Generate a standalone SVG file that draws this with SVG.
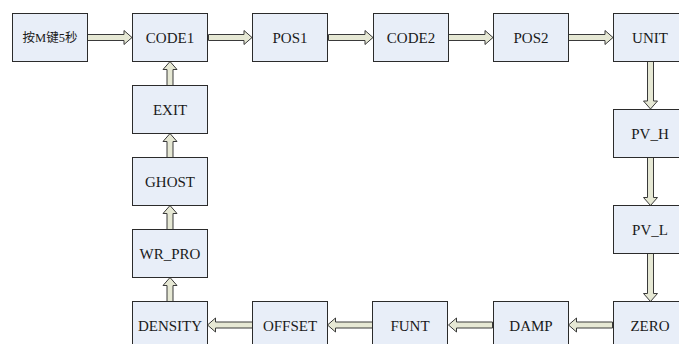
<svg xmlns="http://www.w3.org/2000/svg" width="679" height="344" viewBox="0 0 679 344">
<style>
.box{fill:#e8eef8;stroke:#2b2b2b;stroke-width:1}
.lbl{font-family:"Liberation Serif","Times New Roman",serif;font-size:15px;fill:#1a1a1a;text-anchor:middle}
.cjk{font-family:"Liberation Serif","Noto Sans CJK SC",serif;font-size:12.5px;fill:#1a1a1a;text-anchor:middle}
.arr{fill:#e6e8d4;stroke:#3a3a3a;stroke-width:1;stroke-linejoin:miter}
</style>
<rect width="679" height="344" fill="#ffffff"/>
<g id="connectors">
<path class="arr" d="M87.5 34.5H124V30.5L132 37.5L124 44.5V40.5H87.5Z"/>
<path class="arr" d="M208.5 34.5H244V30.5L252 37.5L244 44.5V40.5H208.5Z"/>
<path class="arr" d="M328.5 34.5H365V30.5L373 37.5L365 44.5V40.5H328.5Z"/>
<path class="arr" d="M448.5 34.5H485V30.5L493 37.5L485 44.5V40.5H448.5Z"/>
<path class="arr" d="M568.5 34.5H605V30.5L613 37.5L605 44.5V40.5H568.5Z"/>
<path class="arr" d="M647.5 61.5V101H643.5L650.5 109L657.5 101H653.5V61.5Z"/>
<path class="arr" d="M647.5 157.5V197.5H643.5L650.5 205.5L657.5 197.5H653.5V157.5Z"/>
<path class="arr" d="M647.5 253.5V293.5H643.5L650.5 301.5L657.5 293.5H653.5V253.5Z"/>
<path class="arr" d="M612.5 322H576.5V318L568.5 325L576.5 332V328H612.5Z"/>
<path class="arr" d="M492.5 322H456.5V318L448.5 325L456.5 332V328H492.5Z"/>
<path class="arr" d="M372.5 322H335.5V318L327.5 325L335.5 332V328H372.5Z"/>
<path class="arr" d="M252.5 322H215.5V318L207.5 325L215.5 332V328H252.5Z"/>
<path class="arr" d="M167 301.5V285.5H163L170 277.5L177 285.5H173V301.5Z"/>
<path class="arr" d="M167 229.5V213.5H163L170 205.5L177 213.5H173V229.5Z"/>
<path class="arr" d="M167 157.5V141.5H163L170 133.5L177 141.5H173V157.5Z"/>
<path class="arr" d="M167 85.5V69.5H163L170 61.5L177 69.5H173V85.5Z"/>
</g>
<g id="start"><rect class="box" x="12.5" y="13.5" width="75" height="48"/><text class="cjk" x="50" y="42">按M键5秒</text></g>
<g id="code1"><rect class="box" x="132.5" y="13.5" width="75" height="48"/><text class="lbl" x="170" y="42.5">CODE1</text></g>
<g id="pos1"><rect class="box" x="252.5" y="13.5" width="75" height="48"/><text class="lbl" x="290" y="42.5">POS1</text></g>
<g id="code2"><rect class="box" x="373.5" y="13.5" width="75" height="48"/><text class="lbl" x="411" y="42.5">CODE2</text></g>
<g id="pos2"><rect class="box" x="493.5" y="13.5" width="75" height="48"/><text class="lbl" x="531" y="42.5">POS2</text></g>
<g id="unit"><rect class="box" x="613.5" y="13.5" width="75" height="48"/><text class="lbl" x="650" y="42.5">UNIT</text></g>
<g id="pv_h"><rect class="box" x="613.5" y="109.5" width="75" height="48"/><text class="lbl" x="650" y="138.5">PV_H</text></g>
<g id="pv_l"><rect class="box" x="613.5" y="205.5" width="75" height="48"/><text class="lbl" x="650" y="234.5">PV_L</text></g>
<g id="zero"><rect class="box" x="613.5" y="301.5" width="75" height="48"/><text class="lbl" x="650" y="330.5">ZERO</text></g>
<g id="damp"><rect class="box" x="493.5" y="301.5" width="75" height="48"/><text class="lbl" x="531" y="330.5">DAMP</text></g>
<g id="funt"><rect class="box" x="372.5" y="301.5" width="75" height="48"/><text class="lbl" x="410" y="330.5">FUNT</text></g>
<g id="offset"><rect class="box" x="252.5" y="301.5" width="75" height="48"/><text class="lbl" x="290" y="330.5">OFFSET</text></g>
<g id="density"><rect class="box" x="132.5" y="301.5" width="75" height="48"/><text class="lbl" x="170" y="330.5">DENSITY</text></g>
<g id="wr_pro"><rect class="box" x="132.5" y="229.5" width="75" height="48"/><text class="lbl" x="170" y="258.5">WR_PRO</text></g>
<g id="ghost"><rect class="box" x="132.5" y="157.5" width="75" height="48"/><text class="lbl" x="170" y="186.5">GHOST</text></g>
<g id="exit"><rect class="box" x="132.5" y="85.5" width="75" height="48"/><text class="lbl" x="170" y="114.5">EXIT</text></g>
</svg>
